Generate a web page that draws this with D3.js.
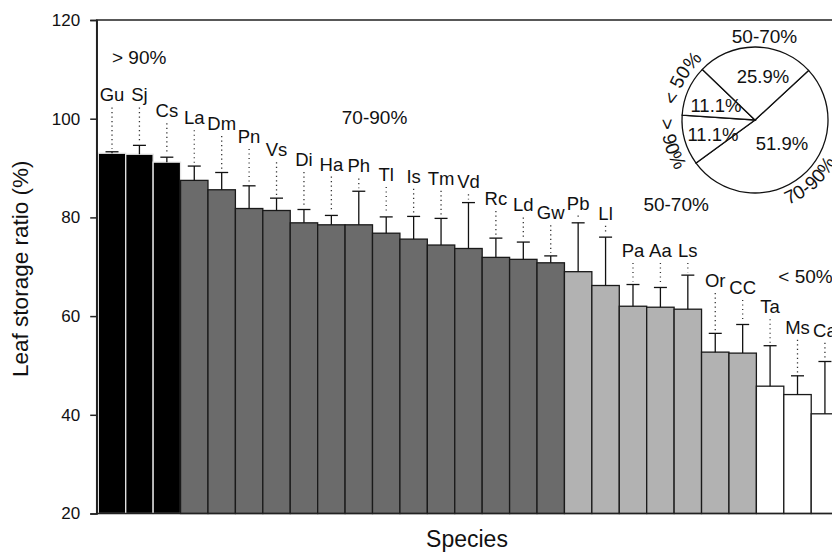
<!DOCTYPE html>
<html>
<head>
<meta charset="utf-8">
<script src="https://cdn.jsdelivr.net/npm/d3@7"></script>
<style>
  html, body { margin: 0; padding: 0; background: #fff; }
  svg { display: block; font-family: Arial, "Liberation Sans", sans-serif; }
</style>
</head>
<body>
<svg id="chart" width="832" height="555"></svg>
<script>
// species, mean leaf storage ratio (%) and upper error
const species = ["Gu","Sj","Cs","La","Dm","Pn","Vs","Di","Ha","Ph","Tl","Is","Tm","Vd",
                 "Rc","Ld","Gw","Pb","Ll","Pa","Aa","Ls","Or","CC","Ta","Ms","Ca"];
const means  = [93.0, 92.8, 91.2, 87.5, 85.6, 81.8, 81.4, 78.9, 78.5, 78.5, 76.8, 75.6, 74.4, 73.7,
                71.9, 71.5, 70.8, 69.0, 66.2, 62.0, 61.8, 61.4, 52.7, 52.5, 45.8, 44.1, 40.2];
const errors = [0.3, 1.8, 1.0, 2.9, 3.5, 4.6, 2.5, 2.7, 1.9, 6.8, 3.3, 4.6, 5.4, 9.3,
                3.9, 3.5, 1.4, 9.9, 9.8, 4.4, 4.0, 6.9, 3.8, 5.8, 8.2, 3.8, 10.6];
// level (in % units) where each species label sits
const labelAt = [103.5, 103.5, 100.3, 98.9, 97.7, 95.1, 92.4, 90.4, 89.5, 89.1, 87.4, 87.0, 86.6, 85.9,
                 82.5, 81.2, 79.6, 81.6, 79.5, 72.0, 72.0, 72.0, 65.9, 64.5, 60.6, 56.4, 55.8];
const groups  = ["> 90%", "70-90%", "50-70%", "< 50%"];
const groupOf = [0,0,0, 1,1,1,1,1,1,1,1,1,1,1,1,1,1, 2,2,2,2,2,2,2, 3,3,3];
const yTicks  = [20, 40, 60, 80, 100, 120];
// group label anchors: [position in bar units from the left, level in %]
const groupLabelAt = [[0.5, 111.1], [8.88, 98.9], [19.88, 81.2], [24.8, 66.7]];
// pie: order as drawn clockwise
const pieGroups = ["70-90%", "> 90%", "< 50%", "50-70%"];
const pieCounts = [14, 3, 3, 7];

const fills   = ["#000000", "#6b6b6b", "#b2b2b2", "#ffffff"];
const strokes = ["#e6e6e6", "#1a1a1a", "#1a1a1a", "#1a1a1a"];

const svg = d3.select("#chart");
const mLeft = 98.3, mTop = 20, mBottom = 513.5, pitch = 27.42;

const x = d3.scaleBand().domain(species)
  .range([mLeft, mLeft + pitch * species.length]).padding(0);
const xi = d3.scaleLinear().domain([0, species.length])
  .range([mLeft, mLeft + pitch * species.length]);
const y = d3.scaleLinear().domain([20, 120]).range([mBottom, mTop]);

// bars
svg.append("g").selectAll("rect")
  .data(species)
  .join("rect")
  .attr("x", d => x(d))
  .attr("y", (d, i) => y(means[i]))
  .attr("width", x.bandwidth())
  .attr("height", (d, i) => y(20) - y(means[i]))
  .attr("fill", (d, i) => fills[groupOf[i]])
  .attr("stroke", (d, i) => strokes[groupOf[i]])
  .attr("stroke-width", 1.3);

// error bars (upper only)
const eb = svg.append("g").attr("stroke", "#111").attr("stroke-width", 1.3);
species.forEach((s, i) => {
  const cx = x(s) + x.bandwidth() / 2;
  eb.append("line").attr("x1", cx).attr("x2", cx)
    .attr("y1", y(means[i])).attr("y2", y(means[i] + errors[i]));
  eb.append("line").attr("x1", cx - 6.5).attr("x2", cx + 6.5)
    .attr("y1", y(means[i] + errors[i])).attr("y2", y(means[i] + errors[i]));
});

// dotted leaders + species labels
const lab = svg.append("g");
species.forEach((s, i) => {
  const cx = x(s) + x.bandwidth() / 2;
  const yl = y(labelAt[i]);
  const yc = y(means[i] + errors[i]);
  if (yc - 3 > yl + 6) {
    lab.append("line").attr("x1", cx).attr("x2", cx)
      .attr("y1", yl + 6).attr("y2", yc - 3)
      .attr("stroke", "#333").attr("stroke-width", 1.3)
      .attr("stroke-dasharray", "1.2,3.3");
  }
  lab.append("text").attr("x", cx).attr("y", yl)
    .attr("text-anchor", "middle").attr("font-size", 18.5).attr("fill", "#111")
    .text(s);
});

// group labels
groupLabelAt.forEach((g, k) => {
  svg.append("text")
    .attr("x", xi(g[0]))
    .attr("y", y(g[1]))
    .attr("font-size", 19).attr("fill", "#111")
    .text(groups[k]);
});

// frame (top line, bottom axis) and left axis
svg.append("rect")
  .attr("x", mLeft - 1.6).attr("y", mTop)
  .attr("width", pitch * species.length + 1.6).attr("height", mBottom - mTop)
  .attr("fill", "none").attr("stroke", "#222").attr("stroke-width", 1.5);

const yAxis = svg.append("g")
  .attr("transform", `translate(${mLeft - 1.6},0)`)
  .call(d3.axisLeft(y).tickValues(yTicks).tickSize(6.5).tickPadding(10));
yAxis.select(".domain").attr("stroke", "#222").attr("stroke-width", 1.5);
yAxis.selectAll(".tick line").attr("stroke", "#222").attr("stroke-width", 1.5);
yAxis.selectAll(".tick text").attr("font-size", 17).attr("fill", "#111")
  .attr("font-family", "Arial, 'Liberation Sans', sans-serif");

// axis titles
svg.append("text")
  .attr("transform", `translate(28,${(mTop + mBottom) / 2 + 2}) rotate(-90)`)
  .attr("text-anchor", "middle").attr("font-size", 22.5).attr("fill", "#111")
  .text("Leaf storage ratio (%)");
svg.append("text")
  .attr("x", 467).attr("y", 547)
  .attr("text-anchor", "middle").attr("font-size", 23).attr("fill", "#111")
  .text("Species");

// inset pie
const pc = [755, 120], pr = 73;
const startA = 47.2 * Math.PI / 180;
const pie = d3.pie().sort(null).startAngle(startA).endAngle(startA + 2 * Math.PI);
const arc = d3.arc().innerRadius(0).outerRadius(pr);
const pg = svg.append("g").attr("transform", `translate(${pc[0]},${pc[1]})`);
const arcs = pie(pieCounts);
pg.selectAll("path").data(arcs).join("path")
  .attr("d", arc).attr("fill", "#fff").attr("stroke", "#111").attr("stroke-width", 1.3);

const total = d3.sum(pieCounts);
// inner percentages: offsets from pie centre
const pctPos = [[27, 30], [-42, 21], [-39, -8], [8, -37]];
arcs.forEach((a, k) => {
  pg.append("text")
    .attr("x", pctPos[k][0]).attr("y", pctPos[k][1])
    .attr("text-anchor", "middle").attr("font-size", 18.5).attr("fill", "#111")
    .text(d3.format(".1f")(pieCounts[k] / total * 100) + "%");
});

// outer category labels, curved along the rim
const deg = Math.PI / 180;
function rimPath(centerDeg, rad, cw) {
  const a0 = (centerDeg - 70) * deg, a1 = (centerDeg + 70) * deg;
  const p0 = [rad * Math.cos(a0), rad * Math.sin(a0)];
  const p1 = [rad * Math.cos(a1), rad * Math.sin(a1)];
  return cw
    ? `M${p0[0]},${p0[1]} A${rad},${rad} 0 0 1 ${p1[0]},${p1[1]}`
    : `M${p1[0]},${p1[1]} A${rad},${rad} 0 0 0 ${p0[0]},${p0[1]}`;
}
const rimLabels = [
  { name: pieGroups[0], at: 48, rad: 91, cw: false },
  { name: pieGroups[1], at: 164, rad: 94, cw: false },
  { name: pieGroups[2], at: -150, rad: 80, cw: true }
];
rimLabels.forEach((d, k) => {
  pg.append("path").attr("id", "rim" + k).attr("d", rimPath(d.at, d.rad, d.cw))
    .attr("fill", "none");
  pg.append("text").attr("font-size", 19).attr("fill", "#111")
    .append("textPath").attr("href", "#rim" + k)
    .attr("startOffset", "50%").attr("text-anchor", "middle")
    .text(d.name);
});
pg.append("text")
  .attr("x", 9.5).attr("y", -77.5)
  .attr("text-anchor", "middle").attr("font-size", 19).attr("fill", "#111")
  .text(pieGroups[3]);
</script>
</body>
</html>
